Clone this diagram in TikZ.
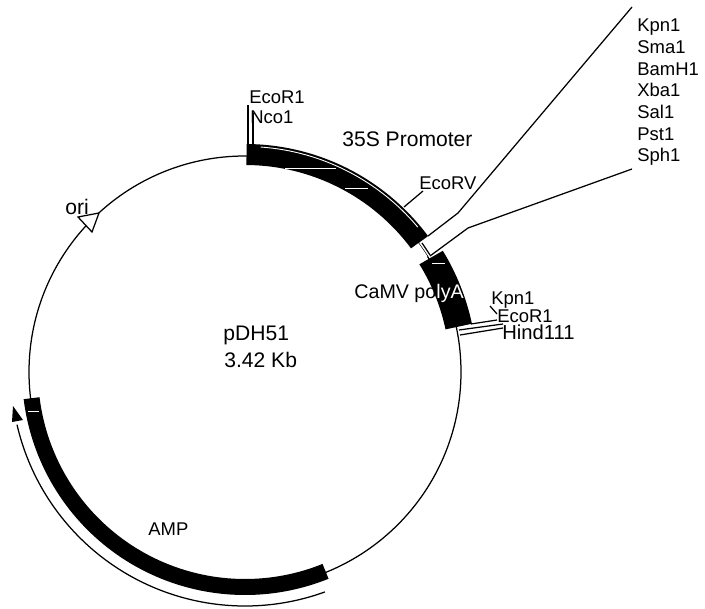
\documentclass[tikz,border=0pt]{standalone}
\usepackage{fontspec}
\setmainfont{Liberation Sans}

\tikzset{
  sitetext/.style = {anchor = base west, inner sep = 0pt, font = \fontsize{10.5}{12}\selectfont},
  bigtext/.style = {sitetext, font = \fontsize{12}{12}\selectfont},
  thinline/.style = {line width = 0.25mm},
  speck/.style = {white, line width = 0.18mm}
}

\begin{document}
\begin{tikzpicture}[x=0.2mm,y=0.2mm]

\useasboundingbox (0,0) rectangle (705,608);

\begin{scope}[shift={(245,236)}]
\draw[thinline] (0,0) circle [radius = 216];

\fill (36.6:207) arc[radius = 207, start angle= 36.6, end angle= 89.6]
  -- (89.6:228) arc[radius = 228, start angle= 89.6, end angle= 36.6] -- cycle;
\fill (12:205) arc[radius = 205, start angle= 12, end angle= 31.7]
  -- (31.5:232) arc[radius = 232, start angle= 31.5, end angle= 12] -- cycle;
\fill[white] (32.4:205) arc[radius = 205, start angle= 32.4, end angle= 36.6]
  -- (36.6:216) arc[radius = 216, start angle= 36.6, end angle= 32.4] -- cycle;
\fill (187:207) arc[radius = 207, start angle= 187, end angle= 292]
  -- (292:223) arc[radius = 223, start angle= 292, end angle= 187] -- cycle;

\draw[speck] (40:225.5) arc[radius = 225.5, start angle= 40, end angle= 86];

\draw[thinline] (290:234) arc[radius = 234, start angle= 290, end angle= 193];
\end{scope}

\draw[thinline] (422,365) -- (430,353);

\fill (13,202) -- (12,186) -- (23,188) -- cycle;
\draw[thinline,fill=white] (99,395) -- (78,391) -- (92,376) -- cycle;

\draw[speck] (285,440) -- (336,440);
\draw[speck] (345,420) -- (368,420);
\draw[speck] (432,345) -- (445,345);
\draw[speck] (28,197) -- (39,197);

\draw[thinline] (248,463) -- (248,503);
\draw[thinline] (253,463) -- (253,495);
\draw[thinline] (404,401) -- (423,417);

\draw[thinline] (428,372) -- (458,395) -- (632,601);
\draw[thinline] (430,352) -- (468,380) -- (632,439);

\draw[thinline] (471,284) -- (497,288);
\draw[thinline] (459,278) -- (503,284);
\draw[thinline] (460,273) -- (503,280);
\draw[thinline] (490,302) -- (497,294);

\node (ecoa) [sitetext] at (249,504) {EcoR1};
\node (nco) [sitetext] at (250,484) {Nco1};
\node (prom) [bigtext] at (342,461) {35S Promoter};
\node (ecorv) [sitetext] at (419,418) {EcoRV};
\node (ori) [bigtext] at (65,393) {ori};
\node (poly) [sitetext,font=\fontsize{11.2}{12}\selectfont] at (354,310) {CaMV po{\color{white}lyA}};
\node (kpnb) [sitetext] at (491,303) {Kpn1};
\node (ecob) [sitetext] at (497,286) {EcoR1};
\node (hind) [sitetext,font=\fontsize{11.5}{12}\selectfont] at (502,268) {Hind111};
\node (name) [bigtext] at (223,267) {pDH51};
\node (size) [bigtext] at (224,241) {3.42 Kb};
\node (amp) [sitetext] at (148,73) {AMP};

\node (kpna) [sitetext] at (637,576) {Kpn1};
\node (sma) [sitetext] at (637,554) {Sma1};
\node (bam) [sitetext] at (637,532) {BamH1};
\node (xba) [sitetext] at (637,511) {Xba1};
\node (sal) [sitetext] at (637,489) {Sal1};
\node (pst) [sitetext] at (637,467) {Pst1};
\node (sph) [sitetext] at (637,446) {Sph1};

\end{tikzpicture}
\end{document}
